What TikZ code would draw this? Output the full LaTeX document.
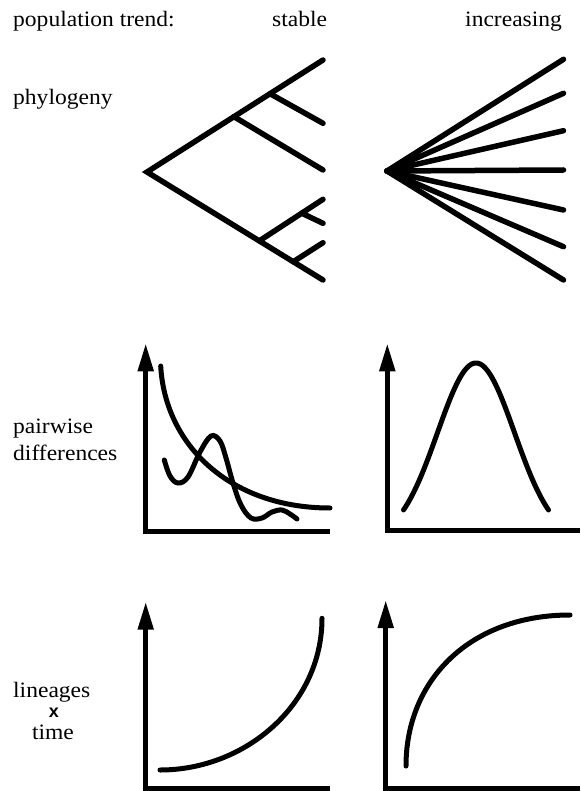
\documentclass[tikz,border=0pt]{standalone}
\usepackage{fontspec}
\setmainfont[FakeStretch=1.07]{Liberation Serif}
\newfontfamily\sansx{Liberation Sans}
\usetikzlibrary{arrows.meta,calc}
\begin{document}
\begin{tikzpicture}[x=1pt,y=-1pt,
  lbl/.style={inner sep=0pt,anchor=base west,font=\fontsize{22}{25}\selectfont},
  tree/.style={line width=5.5pt,line cap=round,line join=miter},
  axis/.style={line width=5pt,line cap=butt,line join=miter,{Triangle[width=15pt,length=28pt]}-},
  curve/.style={line width=5pt,line cap=round}]
\useasboundingbox (0,0) rectangle (580,791);
% labels
\node[lbl] (trend) at (13,26.7) {population trend:};
\node[lbl] (stable) at (272,26.7) {stable};
\node[lbl] (incr) at (465,26.7) {increasing};
\node[lbl] (phylo) at (13,105) {phylogeny};
\node[lbl] (pw1) at (13,433) {pairwise};
\node[lbl] (pw2) at (13,460) {differences};
\node[lbl] (lin) at (13,697) {lineages};
\node[inner sep=0pt,anchor=base,font=\sansx\bfseries\fontsize{18}{20}\selectfont] (xx) at (54,717) {x};
\node[lbl,anchor=base] (time) at (53,739) {time};
% stable phylogeny
\coordinate (r) at (147,172);
\coordinate (t) at (323,60);
\coordinate (b) at (323,280);
\draw[tree] (t) -- (r) -- (b);
\coordinate (A) at ($(r)!0.494!(t)$);
\coordinate (B) at ($(r)!0.699!(t)$);
\draw[tree] (A) -- (323,170);
\draw[tree] (B) -- (323,123.3);
\coordinate (C) at ($(r)!0.638!(b)$);
\coordinate (Ct) at (323,199.3);
\draw[tree] (C) -- (Ct);
\coordinate (D) at ($(C)!0.666!(Ct)$);
\draw[tree] (D) -- (323,223.3);
\coordinate (E) at ($(r)!0.831!(b)$);
\draw[tree] (E) -- (323,242.7);
% increasing phylogeny
\coordinate (s) at (387,171);
\foreach \yy in {59.3,93.3,130.7,170,210,246.7,280}
  \draw[tree] (563.5,\yy) -- (s);
% pairwise stable
\coordinate (p1tip) at (145.7,343.3);
\coordinate (p1c) at (145.7,531.7);
\coordinate (p1e) at (330,531.7);
\draw[axis] (p1tip) -- (p1c) -- (p1e);
\draw[curve] (160.7,366) .. controls (165,445) and (230,508) .. (330,508);
\draw[curve] plot[smooth,tension=0.6] coordinates {(164.3,460) (170,476) (178,483) (188,477) (200,452) (211,436) (220,441) (226,458) (233,483) (241,505) (251,518) (262,518) (272,512) (282,510) (290,514) (297,519)};
% pairwise increasing
\coordinate (p2tip) at (387.3,343.3);
\coordinate (p2c) at (387.3,530);
\coordinate (p2e) at (580,530);
\draw[axis] (p2tip) -- (p2c) -- (p2e);
\draw[curve] plot[domain=-72.5:72.5,samples=80,smooth] ({476+\x},{540-177*exp(-(\x*\x)/2964.5)});
% lineages stable
\coordinate (l1tip) at (145.7,601.7);
\coordinate (l1c) at (145.7,788.3);
\coordinate (l1e) at (330,788.3);
\draw[axis] (l1tip) -- (l1c) -- (l1e);
\draw[curve] (160,770) .. controls (245,770) and (322,705) .. (322,618.3);
% lineages increasing
\coordinate (l2tip) at (385.7,600);
\coordinate (l2c) at (385.7,788.3);
\coordinate (l2e) at (580,788.3);
\draw[axis] (l2tip) -- (l2c) -- (l2e);
\draw[curve] (406,766) .. controls (406,680) and (470,615) .. (570,615);
\end{tikzpicture}
\end{document}
